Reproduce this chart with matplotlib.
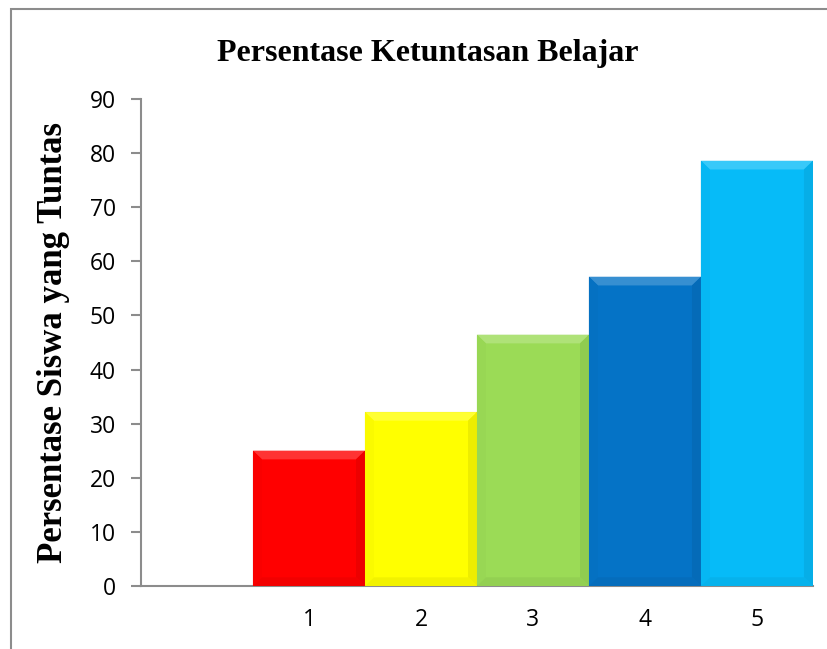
import matplotlib
matplotlib.use("Agg")
import matplotlib.pyplot as plt
from matplotlib.patches import Polygon, Rectangle
from matplotlib.colors import to_rgb

# data
categories = ['', '1', '2', '3', '4', '5']
values = [25.0, 32.14, 46.43, 57.14, 78.57]
bar_colors = ['#FF0000', '#FFFF00', '#9BDB56', '#0573C6', '#06BBF8']

fig = plt.figure(figsize=(8.27, 6.49), dpi=100)
ax = fig.add_axes([0.1705, 0.0971, 0.8125, 0.7504])

# outer frame (left and top edges visible)
fig.patches.append(Rectangle((11 / 827, -0.1), 1.2, 1.1 - 9 / 649,
                             transform=fig.transFigure, fill=False,
                             edgecolor='#8c8c8c', linewidth=1.5))

pos = list(range(1, len(values) + 1))


def shade(c, f):
    r, g, b = to_rgb(c)
    if f > 0:
        return (r + (1 - r) * f, g + (1 - g) * f, b + (1 - b) * f)
    return (r * (1 + f), g * (1 + f), b * (1 + f))


ax.bar(pos, values, width=1.0, color=bar_colors,
       edgecolor=[shade(c, -0.12) for c in bar_colors], linewidth=0.8, zorder=3)

# soft bevel facets on each bar
bx, by = 0.08, 1.6
for x, h, c in zip(pos, values, bar_colors):
    l, r = x - 0.5, x + 0.5
    facets = [
        ([(l, h), (r, h), (r - bx, h - by), (l + bx, h - by)], shade(c, 0.2)),
        ([(l, h), (l + bx, h - by), (l + bx, by), (l, 0)], shade(c, -0.02)),
        ([(r, h), (r - bx, h - by), (r - bx, by), (r, 0)], shade(c, -0.07)),
        ([(l, 0), (l + bx, by), (r - bx, by), (r, 0)], shade(c, -0.05)),
    ]
    for pts, fc in facets:
        ax.add_patch(Polygon(pts, closed=True, facecolor=fc, edgecolor='none', zorder=4))

ax.set_xlim(-0.5, 5.5)
ax.set_ylim(0, 90)
ax.set_xticks(range(len(categories)))
ax.set_xticklabels(categories)
ax.set_yticks(range(0, 91, 10))

for side in ['top', 'right']:
    ax.spines[side].set_visible(False)
for side in ['left', 'bottom']:
    ax.spines[side].set_color('#8c8c8c')
    ax.spines[side].set_linewidth(1.5)

ax.tick_params(axis='y', direction='out', length=7, width=1.5, color='#8c8c8c',
               labelsize=16.5, pad=11)
ax.tick_params(axis='x', length=0, labelsize=16.5, pad=16)
for lab in ax.get_xticklabels() + ax.get_yticklabels():
    lab.set_fontfamily('Open Sans')

fig.text(0.5175, 0.918, 'Persentase Ketuntasan Belajar', ha='center', va='center',
         fontsize=23, fontweight='bold', family='Liberation Serif')
ax.set_ylabel('Persentase Siswa yang Tuntas', fontsize=25, fontweight='bold',
              family='Liberation Serif', labelpad=14)

fig.savefig('out.png', dpi=100)
